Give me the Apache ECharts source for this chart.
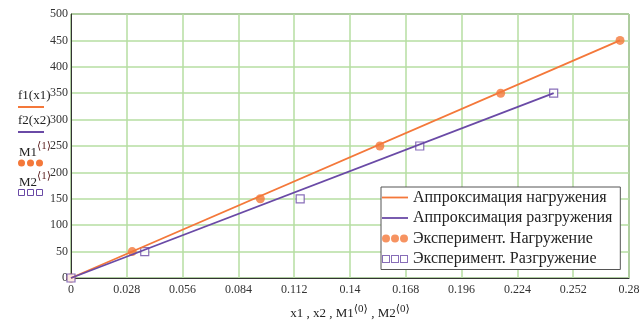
<!DOCTYPE html>
<html>
<head>
<meta charset="utf-8">
<script src="https://cdn.jsdelivr.net/npm/echarts@6/dist/echarts.min.js"></script>
<style>
  html, body { margin: 0; padding: 0; background: #fff; }
  #chart { width: 644px; height: 322px; }
</style>
</head>
<body>
<div id="chart"></div>
<script>
// approximation lines (end points)
var f1X = [0, 0.2755];
var f1Y = [0, 450];
var f2X = [0, 0.2422];
var f2Y = [0, 350];

// experiment points
var m1X = [0, 0.0307, 0.095, 0.155, 0.2156, 0.2755];
var m1Y = [0, 50, 150, 250, 350, 450];
var m2X = [0, 0.037, 0.115, 0.175, 0.2422];
var m2Y = [0, 50, 150, 250, 350];

var seriesNames = [
  'Аппроксимация нагружения',
  'Аппроксимация разгружения',
  'Эксперимент. Нагружение',
  'Эксперимент. Разгружение'
];

var xMin = 0, xMax = 0.28, xStep = 0.028;
var yMin = 0, yMax = 500, yStep = 50;

var orange = '#f4783a';
var purple = '#6a4aa6';
var serif = '"Liberation Serif", "DejaVu Serif", serif';

function pairs(xs, ys) {
  return xs.map(function (x, i) { return [x, ys[i]]; });
}

// legend icons, drawn in a 26x8 box (the two moveTo's fix the box size)
var lineIcon = 'path://M0,0M26,8M0,3.1h26v1.8h-26z';
var dotsIcon = 'path://M0,4a4,4 0 1,0 8,0a4,4 0 1,0 -8,0M9,4a4,4 0 1,0 8,0a4,4 0 1,0 -8,0M18,4a4,4 0 1,0 8,0a4,4 0 1,0 -8,0';
var squaresIcon = 'path://M0,0h8v8h-8zM1,1v6h6v-6zM9,0h8v8h-8zM10,1v6h6v-6zM18,0h8v8h-8zM19,1v6h6v-6z';

var myChart = echarts.init(document.getElementById('chart'));

myChart.setOption({
  animation: false,
  grid: {
    left: 71, right: 15, top: 14, bottom: 44,
    outerBoundsMode: 'none',
    show: true, borderColor: '#333', borderWidth: 1
  },
  xAxis: {
    type: 'value',
    min: xMin, max: xMax, interval: xStep,
    name: '{n|x1 , x2 , M1}{s|⟨0⟩}{n| , M2}{s|⟨0⟩}',
    nameLocation: 'middle',
    nameGap: 26,
    nameTextStyle: {
      rich: {
        n: { fontFamily: serif, fontSize: 13, color: '#222', verticalAlign: 'bottom', lineHeight: 16 },
        s: { fontFamily: serif, fontSize: 11, color: '#222', verticalAlign: 'top', lineHeight: 16, padding: [0, 0, 6, 0] }
      }
    },
    axisLine: { show: true, lineStyle: { color: '#333', width: 1 } },
    axisTick: { show: false },
    axisLabel: {
      fontFamily: serif, fontSize: 12, color: '#333', margin: 6,
      formatter: function (v) { return String(+v.toFixed(3)); }
    },
    splitLine: { lineStyle: { color: '#b6dea2', width: 1.5 } }
  },
  yAxis: {
    type: 'value',
    min: yMin, max: yMax, interval: yStep,
    axisLine: { show: true, lineStyle: { color: '#333', width: 1 } },
    axisTick: { show: false },
    axisLabel: { fontFamily: serif, fontSize: 12, color: '#333', margin: 3 },
    splitLine: { lineStyle: { color: '#b6dea2', width: 1.5 } }
  },
  legend: {
    orient: 'vertical',
    left: 381, top: 187,
    padding: [2, 8, 2, 1],
    itemGap: 3.5,
    itemWidth: 26, itemHeight: 8,
    backgroundColor: '#fff',
    borderColor: '#555', borderWidth: 1,
    textStyle: { fontFamily: serif, fontSize: 16, lineHeight: 17, color: '#222' },
    data: [
      { name: seriesNames[0], icon: lineIcon, itemStyle: { color: orange, borderWidth: 0 } },
      { name: seriesNames[1], icon: lineIcon, itemStyle: { color: purple, borderWidth: 0 } },
      { name: seriesNames[2], icon: dotsIcon, itemStyle: { color: orange, borderWidth: 0 } },
      { name: seriesNames[3], icon: squaresIcon, itemStyle: { color: purple, borderWidth: 0 } }
    ]
  },
  graphic: [
    { type: 'text', left: 18, top: 89, style: { text: 'f1(x1)', font: '13px ' + serif, fill: '#222' } },
    { type: 'line', shape: { x1: 18, y1: 107, x2: 44, y2: 107 }, style: { stroke: orange, lineWidth: 2 } },
    { type: 'text', left: 18, top: 114, style: { text: 'f2(x2)', font: '13px ' + serif, fill: '#222' } },
    { type: 'line', shape: { x1: 18, y1: 132, x2: 44, y2: 132 }, style: { stroke: purple, lineWidth: 2 } },
    { type: 'text', left: 19, top: 141, style: {
        text: '{n|M1}{s|⟨1⟩}',
        rich: {
          n: { fontFamily: serif, fontSize: 13, fill: '#222', verticalAlign: 'bottom', lineHeight: 18 },
          s: { fontFamily: serif, fontSize: 11, fill: '#5a1f1f', verticalAlign: 'top', lineHeight: 18 }
        } } },
    { type: 'circle', shape: { cx: 21.5, cy: 163, r: 3.5 }, style: { fill: orange } },
    { type: 'circle', shape: { cx: 30.5, cy: 163, r: 3.5 }, style: { fill: orange } },
    { type: 'circle', shape: { cx: 39.5, cy: 163, r: 3.5 }, style: { fill: orange } },
    { type: 'text', left: 19, top: 171, style: {
        text: '{n|M2}{s|⟨1⟩}',
        rich: {
          n: { fontFamily: serif, fontSize: 13, fill: '#222', verticalAlign: 'bottom', lineHeight: 18 },
          s: { fontFamily: serif, fontSize: 11, fill: '#5a1f1f', verticalAlign: 'top', lineHeight: 18 }
        } } },
    { type: 'rect', shape: { x: 18.5, y: 189.5, width: 6, height: 6 }, style: { fill: 'none', stroke: purple, lineWidth: 1 } },
    { type: 'rect', shape: { x: 27.5, y: 189.5, width: 6, height: 6 }, style: { fill: 'none', stroke: purple, lineWidth: 1 } },
    { type: 'rect', shape: { x: 36.5, y: 189.5, width: 6, height: 6 }, style: { fill: 'none', stroke: purple, lineWidth: 1 } }
  ],
  series: [
    {
      name: seriesNames[0], type: 'line', symbol: 'none',
      data: pairs(f1X, f1Y),
      lineStyle: { color: orange, width: 1.8 }, itemStyle: { color: orange }
    },
    {
      name: seriesNames[1], type: 'line', symbol: 'none',
      data: pairs(f2X, f2Y),
      lineStyle: { color: purple, width: 1.8 }, itemStyle: { color: purple }
    },
    {
      name: seriesNames[2], type: 'scatter', symbol: 'circle', symbolSize: 9,
      data: pairs(m1X, m1Y),
      itemStyle: { color: orange }
    },
    {
      name: seriesNames[3], type: 'scatter', symbol: 'rect', symbolSize: 8,
      data: pairs(m2X, m2Y),
      itemStyle: { color: '#fff', borderColor: purple, borderWidth: 1.2 }
    }
  ]
});
</script>
</body>
</html>
